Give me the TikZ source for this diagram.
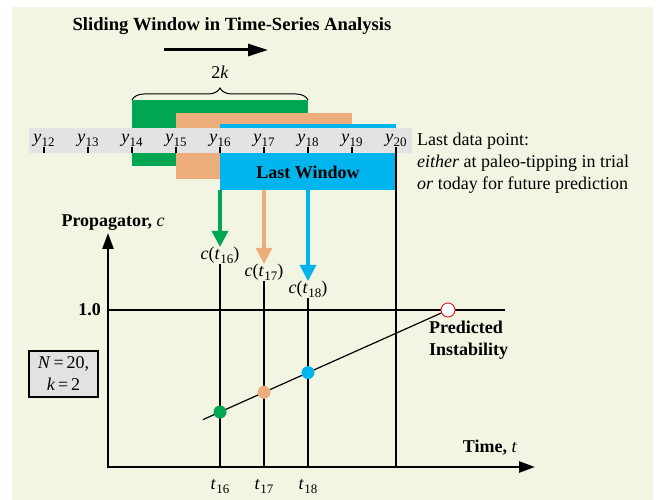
\documentclass[tikz,border=0pt]{standalone}
\usepackage{fontspec}
\setmainfont{Liberation Serif}
\usetikzlibrary{arrows.meta,decorations.pathreplacing}
\definecolor{cream}{HTML}{F3F5E3}
\definecolor{wgreen}{HTML}{00A651}
\definecolor{worange}{HTML}{EEAD7C}
\definecolor{wblue}{HTML}{00B4EE}
\definecolor{strip}{HTML}{E3E3E3}
\definecolor{boxgray}{HTML}{E2E2E2}
\definecolor{pred}{HTML}{E02828}
\newcommand{\subs}[2]{#1\kern0.3pt\raisebox{-4pt}{\fontsize{13}{13}\selectfont #2}}
\begin{document}
\begin{tikzpicture}[x=1pt,y=-1pt,
  font=\fontsize{18}{22}\selectfont,
  thinline/.style={line width=1.2pt},
  axisline/.style={line width=2.6pt,-{Triangle[length=16pt,width=11pt]}},
  varrow/.style={line width=3.2pt,-{Triangle[length=16pt,width=16pt]}},
  win/.style={minimum width=176pt,minimum height=66pt,inner sep=0pt,draw=none},
  dot/.style={circle,minimum size=13pt,inner sep=0pt},
  lab/.style={inner sep=0pt}]
\useasboundingbox (0,0) rectangle (657,500);
\fill[cream] (12,7) rectangle (653,500);

% title
\node[lab,font=\fontsize{18.6}{22}\selectfont] (title) at (232,26) {\bfseries Sliding Window in Time-Series Analysis};
\coordinate (ta) at (164,50);
\coordinate (tb) at (268,50);
\draw[line width=3pt,-{Triangle[length=20pt,width=12pt]}] (ta) -- (tb);

% brace
\coordinate (bl) at (132,100);
\coordinate (br) at (308,100);
\draw[line width=1pt,decorate,decoration={brace,amplitude=12pt}] (bl) -- (br);
\node[lab] (twok) at (220,72) {2\textit{k}};

% windows
\node[win,fill=wgreen] (w1) at (220,133) {};
\node[win,fill=worange] (w2) at (264,146) {};
\node[win,fill=wblue] (w3) at (308,157) {};

% data strip
\fill[strip] (29,128) rectangle (412,153);
\foreach \i in {12,...,20}{
  \pgfmathtruncatemacro{\xx}{44+44*(\i-12)}
  \node[lab,anchor=base] (y\i) at (\xx,143) {\subs{\textit{y}}{\i}};
  \draw[thinline] (\xx,147) -- (\xx,153);
}
\node[lab] (lw) at (308,172) {\bfseries Last Window};

% last data point text
\node[lab,anchor=west,align=left] (ldp) at (417,163) {Last data point:\\\textit{either} at paleo-tipping in trial\\\textit{or} today for future prediction};

% axes
\coordinate (O) at (108,467);
\coordinate (xe) at (535,467);
\coordinate (ye) at (108,233);
\draw[axisline] (106.7,467) -- (xe);
\draw[axisline] (108,468.3) -- (ye);
\node[lab] (ylab) at (113,223) {\bfseries Propagator, \textmd{\textit{c}}};
\node[lab] (xlab) at (490,448) {\bfseries Time, \textmd{\textit{t}}};

% 1.0 line
\node[lab,anchor=east] (one) at (101,310) {\bfseries 1.0};
\coordinate (onee) at (505,310);
\draw[thinline] (108,310) -- (onee);

% c labels
\node[lab,anchor=north] (c16) at (220,247) {\textit{c}(\subs{\textit{t}}{16})};
\node[lab,anchor=north] (c17) at (264,264) {\textit{c}(\subs{\textit{t}}{17})};
\node[lab,anchor=north] (c18) at (308,281) {\textit{c}(\subs{\textit{t}}{18})};

% t labels
\node[lab] (t16) at (220,486) {\subs{\textit{t}}{16}};
\node[lab] (t17) at (264,486) {\subs{\textit{t}}{17}};
\node[lab] (t18) at (308,486) {\subs{\textit{t}}{18}};

% vertical colored arrows
\coordinate (a16) at (220,190);
\coordinate (a17) at (264,190);
\coordinate (a18) at (308,190);
\draw[varrow,wgreen] (a16) -- (c16.north);
\draw[varrow,worange] (a17) -- (c17.north);
\draw[varrow,wblue] (a18) -- (c18.north);

% vertical black lines
\draw[thinline] (c16.south) -- (c16.south |- O);
\draw[thinline] (c17.south) -- (c17.south |- O);
\draw[thinline] (c18.south) -- (c18.south |- O);
\coordinate (v20) at (396,147);
\draw[thinline] (v20) -- (v20 |- O);

% trend line and points
\node[circle,minimum size=14pt,inner sep=0pt,draw=pred,fill=white,line width=1pt] (pi) at (448,310) {};
\coordinate (ts) at (203,419.6);
\draw[thinline] (ts) -- (pi);
\node[dot,fill=wgreen] (d16) at (220,412) {};
\node[dot,fill=worange] (d17) at (264,392.3) {};
\node[dot,fill=wblue] (d18) at (308,372.6) {};
\node[lab,anchor=west,align=left] (ptxt) at (429,340) {\bfseries Predicted\\\bfseries Instability};

% parameter box
\node[draw,fill=boxgray,line width=1.2pt,minimum width=69pt,minimum height=46pt,inner sep=0pt,align=center] (par) at (63.5,374) {\textit{N}\,=\,20,\\\textit{k}\,=\,2};
\end{tikzpicture}
\end{document}
